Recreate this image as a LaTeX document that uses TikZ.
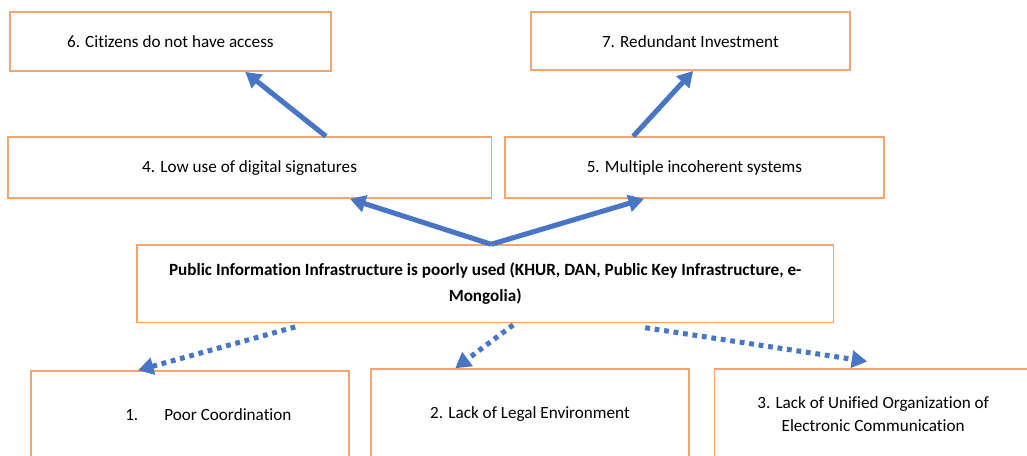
\documentclass[tikz,border=0pt]{standalone}
\usepackage{fontspec}
\setmainfont{Carlito}[Ligatures=NoCommon]
\usepackage{tikz}
\usetikzlibrary{arrows.meta}

\definecolor{boxline}{RGB}{240,165,115}
\definecolor{arrowblue}{RGB}{72,118,196}

\tikzset{
  box/.style={draw=boxline,line width=1pt,fill=white,inner sep=2pt,align=center,font=\fontsize{12.2}{14}\selectfont},
  solidarrow/.style={-{Triangle[length=11pt,width=12pt]},color=arrowblue,line width=3.6pt},
  dotarrow/.style={-{Triangle[length=11pt,width=12pt]},color=arrowblue,line width=3.6pt,dash pattern=on 3.4pt off 3.4pt}
}

\begin{document}
\begin{tikzpicture}
  \useasboundingbox (0,0) rectangle (25.675,-11.4);
 \begin{scope}
  \clip (0,0) rectangle (25.675,-11.4);
   \draw (4.26,-1.04) node[box,minimum width=8.03cm,minimum height=1.48cm] (access) {6. Citizens do not have access};
   \draw (17.26,-1.03) node[box,minimum width=7.98cm,minimum height=1.45cm] (invest) {7. Redundant Investment};
  \draw (6.24,-4.19) node[box,minimum width=12.08cm,minimum height=1.53cm] (signat) {4. Low use of digital signatures};
  \draw (17.36,-4.19) node[box,minimum width=9.48cm,minimum height=1.53cm] (systems) {5. Multiple incoherent systems};
	\draw (12.13,-7.09) node[box,minimum width=17.4cm,minimum height=1.93cm,font=\fontsize{12.2}{19}\selectfont\bfseries] (infra) {Public Information Infrastructure is poorly used (KHUR, DAN, Public Key Infrastructure, e-\\Mongolia)};
	    \draw (4.75,-10.375) node[box,minimum width=7.95cm,minimum height=2.2cm] (coord) {\hspace*{0.92cm}1.\hspace{0.65cm}Poor Coordination};
	    \draw (13.25,-10.35) node[box,minimum width=7.95cm,minimum height=2.25cm] (legal) {2. Lack of Legal Environment};
	    \draw (21.83,-10.35) node[box,minimum width=7.95cm,minimum height=2.25cm,font=\fontsize{12.2}{16.5}\selectfont] (unified) {3. Lack of Unified Organization of\\Electronic Communication};

    \path[solidarrow] ([xshift=1.91cm]signat.north) edge ([xshift=1.87cm]access.south);
    \path[solidarrow] ([xshift=-1.53cm]systems.north) edge ([xshift=0.07cm]invest.south);
      \path[solidarrow] ([xshift=0.15cm]infra.north) edge ([xshift=2.51cm]signat.south);
      \path[solidarrow] ([xshift=0.15cm]infra.north) edge ([xshift=-1.26cm]systems.south);
       \path[dotarrow] ([xshift=-4.75cm,yshift=-0.1cm]infra.south) edge ([xshift=-1.3cm]coord.north);
       \path[dotarrow] ([xshift=0.7cm,yshift=-0.05cm]infra.south) edge ([xshift=-1.87cm]legal.north);
       \path[dotarrow] ([xshift=4.0cm,yshift=-0.12cm]infra.south) edge ([xshift=-0.15cm,yshift=0.17cm]unified.north);
 \end{scope}
\end{tikzpicture}
\end{document}
